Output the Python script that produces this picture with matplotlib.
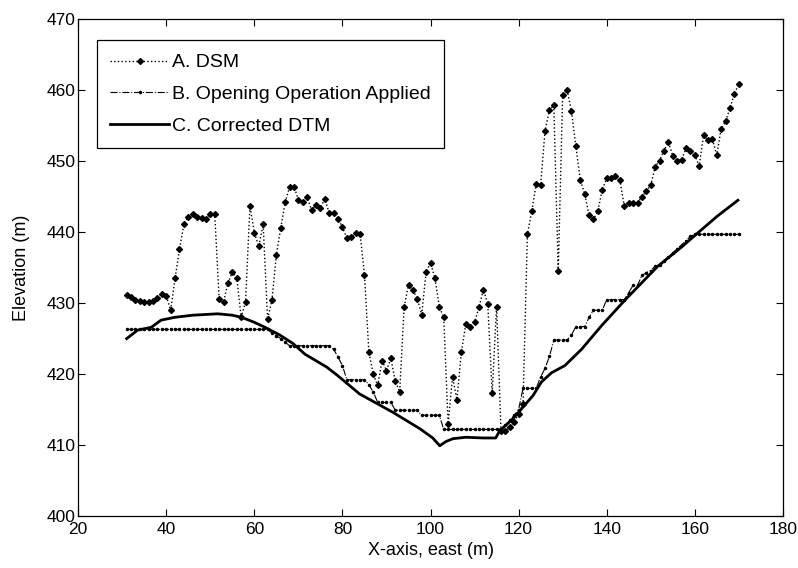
import matplotlib
matplotlib.use("Agg")
import matplotlib.pyplot as plt
import numpy as np

plt.rcParams['font.family'] = ['Liberation Sans', 'DejaVu Sans']

# ---- data ----
dsm_x = list(range(31, 171))
dsm_y = [431.1, 430.8, 430.5, 430.3, 430.2, 430.2, 430.3, 430.7, 431.3, 431.0,
         429.0, 433.5, 437.6, 441.1, 442.2, 442.5, 442.1, 442.0, 441.9, 442.6,
         442.6, 430.6, 430.2, 432.8, 434.4, 433.6, 428.0, 430.2, 443.7, 439.9,
         438.0, 441.1, 427.7, 430.5, 436.8, 440.6, 444.2, 446.4, 446.4, 444.6,
         444.2, 444.9, 443.1, 443.9, 443.4, 444.7, 442.7, 442.7, 441.9, 440.7,
         439.2, 439.3, 439.9, 439.8, 434.0, 423.1, 420.0, 418.4, 421.9, 420.5,
         422.2, 419.0, 417.5, 429.4, 432.6, 431.8, 430.6, 428.4, 434.4, 435.7,
         433.5, 429.5, 428.0, 413.0, 419.6, 416.4, 423.1, 427.0, 426.7, 427.3,
         429.4, 431.9, 429.9, 417.3, 429.5, 412.0, 412.0, 412.5, 413.3, 414.4,
         415.8, 439.7, 443.0, 446.8, 446.6, 454.3, 457.2, 457.9, 434.5, 459.3,
         460.1, 457.1, 452.1, 447.4, 445.4, 442.4, 441.8, 443.0, 446.0, 447.6,
         447.7, 447.9, 447.3, 443.7, 444.1, 444.1, 444.1, 445.0, 445.8, 446.6,
         449.2, 450.1, 451.5, 452.7, 450.8, 450.1, 450.2, 451.8, 451.5, 450.9,
         449.3, 453.7, 453.0, 453.1, 450.9, 454.6, 455.6, 457.5, 459.5, 460.9]

open_x = list(range(31, 171))
open_y = ([426.3] * 33 +                                   # 31-63
          [425.8, 425.4, 425.0, 424.5] +                   # 64-67
          [424.0] * 10 +                                   # 68-77
          [423.5, 422.4, 421.2] +                          # 78-80
          [419.2] * 5 +                                    # 81-85
          [418.5, 417.5] +                                 # 86-87
          [416.0] * 4 +                                    # 88-91
          [414.9] * 6 +                                    # 92-97
          [414.2] * 5 +                                    # 98-102
          [412.2] * 13 +                                   # 103-115
          [412.3, 412.8, 413.5, 414.2, 415.0] +            # 116-120
          [418.0] * 4 +                                    # 121-124
          [419.6, 420.8, 422.5] +                          # 125-127
          [424.8] * 4 +                                    # 128-131
          [425.5, 426.7, 426.7, 426.7, 428.0] +            # 132-136
          [429.0] * 3 +                                    # 137-139
          [430.5] * 5 +                                    # 140-144
          [431.5, 432.5, 432.5, 433.9, 434.3, 434.6, 435.2] +  # 145-151
          [435.4, 436.0, 436.5, 437.1, 437.7, 438.2, 438.8, 439.4] +  # 152-159
          [439.7] * 11)                                    # 160-170

dtm_x = [31, 33.5, 36.6, 38.8, 41.9, 46, 51.7, 55, 57.1, 60, 62.4, 65.8, 68.8,
         71.5, 76.4, 78.7, 83.9, 91.5, 97.6, 100.5, 102.1, 103.5, 105.1, 108,
         112, 114.8, 115.7, 118.7, 123.3, 125.2, 127.5, 130.5, 134.3, 138.8,
         144.1, 151.6, 157.0, 160.7, 165, 169.8]
dtm_y = [425.0, 426.2, 426.6, 427.6, 428.0, 428.3, 428.5, 428.3, 428.0, 427.3,
         426.6, 425.5, 424.3, 422.8, 421.0, 419.9, 417.2, 414.6, 412.3, 411.0,
         409.9, 410.5, 410.9, 411.1, 411.0, 411.0, 412.0, 413.7, 417.0, 418.9,
         420.2, 421.2, 423.5, 426.8, 430.4, 435.2, 437.9, 439.9, 442.2, 444.5]

labels = ["A. DSM", "B. Opening Operation Applied", "C. Corrected DTM"]
x_ticks = [20, 40, 60, 80, 100, 120, 140, 160, 180]
y_ticks = [400, 410, 420, 430, 440, 450, 460, 470]

# ---- figure ----
fig = plt.figure(figsize=(7.98, 5.68), dpi=100)
ax = fig.add_axes([0.098, 0.0915, 0.883, 0.8745])

ax.plot(dsm_x, dsm_y, linestyle=':', color='black', linewidth=1.0,
        marker='D', markersize=3.0, markerfacecolor='black',
        markeredgecolor='black', label=labels[0])
ax.plot(open_x, open_y, linestyle='-.', color='black', linewidth=0.8,
        marker='.', markersize=3.0, label=labels[1])
ax.plot(dtm_x, dtm_y, linestyle='-', color='black', linewidth=2.0,
        label=labels[2])

ax.set_xlim(20, 180)
ax.set_ylim(400, 470)
ax.set_xticks(x_ticks)
ax.set_yticks(y_ticks)
ax.tick_params(direction='in', length=5, width=0.8, top=True, right=True,
               labelsize=12.5)
ax.tick_params(axis='x', pad=4)
ax.tick_params(axis='y', pad=2)
for s in ax.spines.values():
    s.set_linewidth(0.9)

ax.set_xlabel("X-axis, east (m)", fontsize=13, labelpad=4)
ax.set_ylabel("Elevation (m)", fontsize=13, labelpad=12)

leg = ax.legend(loc='upper left', bbox_to_anchor=(0.0265, 0.958),
                fontsize=14, frameon=True, fancybox=False, edgecolor='black',
                handlelength=3.0, handletextpad=0.15, labelspacing=0.72,
                borderpad=0.7, borderaxespad=0.0, framealpha=1)
leg.get_frame().set_linewidth(0.9)

fig.savefig("out.png", dpi=100)
